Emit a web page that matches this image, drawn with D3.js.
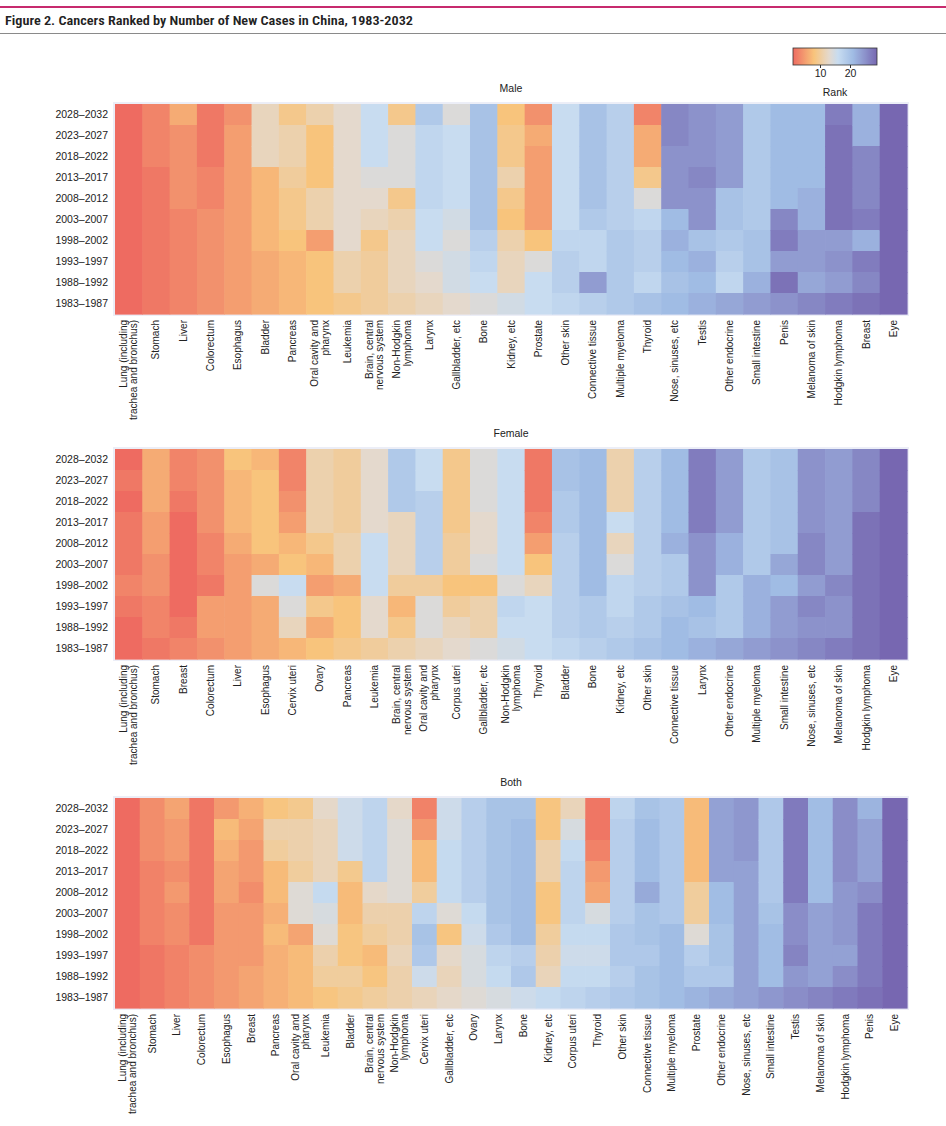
<!DOCTYPE html>
<html>
<head>
<meta charset="utf-8">
<script src="https://cdn.jsdelivr.net/npm/d3@7"></script>
<style>
  html, body { margin: 0; padding: 0; background: #fff; }
  svg { display: block; }
  text { font-family: "Liberation Sans", Arial, sans-serif; fill: #222; }
</style>
</head>
<body>
<svg id="chart" width="946" height="1126"></svg>
<script>
// ---------- DATA ----------
const periods = ["2028–2032","2023–2027","2018–2022","2013–2017","2008–2012",
                 "2003–2007","1998–2002","1993–1997","1988–1992","1983–1987"];

const legendTicks = [10, 20];

// Each rank array lists one cancer's rank per period, top (2028–2032) to bottom (1983–1987)
const maleCancers = ["Lung (including\ntrachea and bronchus)","Stomach","Liver","Colorectum","Esophagus",
  "Bladder","Pancreas","Oral cavity and\npharynx","Leukemia","Brain, central\nnervous system",
  "Non-Hodgkin\nlymphoma","Larynx","Gallbladder, etc","Bone","Kidney, etc","Prostate","Other skin",
  "Connective tissue","Multiple myeloma","Thyroid","Nose, sinuses, etc","Testis","Other endocrine",
  "Small intestine","Penis","Melanoma of skin","Hodgkin lymphoma","Breast","Eye"];
const maleRanks = [
  [1,1,1,1,1,1,1,1,1,1],
  [3,3,3,2,2,2,2,2,2,2],
  [6,4,4,4,4,3,3,3,3,3],
  [2,2,2,3,3,4,4,4,4,4],
  [4,5,5,5,5,5,5,5,5,5],
  [12,12,12,7,7,7,7,6,6,6],
  [9,11,11,10,9,9,8,7,7,7],
  [11,8,8,8,11,11,5,8,8,8],
  [13,13,13,13,13,13,13,11,11,9],
  [16,16,16,14,13,12,9,10,10,10],
  [9,14,14,14,9,11,12,12,12,11],
  [19,17,17,17,17,16,16,14,13,12],
  [14,16,16,16,16,15,14,15,15,13],
  [20,20,20,20,20,20,18,17,16,14],
  [8,9,9,11,9,8,11,12,12,15],
  [4,6,5,5,5,5,8,14,16,16],
  [16,16,16,16,16,16,17,18,18,17],
  [20,20,20,20,20,19,17,17,24,18],
  [18,18,18,18,18,18,19,19,19,19],
  [3,6,6,9,14,17,18,18,17,20],
  [26,26,25,25,25,21,22,21,20,21],
  [25,25,25,26,25,25,20,22,21,22],
  [24,24,24,24,20,20,19,18,17,23],
  [19,19,19,19,19,19,20,20,22,24],
  [21,21,21,21,21,26,27,24,28,25],
  [21,21,21,21,22,22,24,24,23,26],
  [27,28,28,28,28,28,24,25,24,27],
  [22,22,26,26,26,27,22,27,26,28],
  [29,29,29,29,29,29,29,29,29,29]
];

const femaleCancers = ["Lung (including\ntrachea and bronchus)","Stomach","Breast","Colorectum","Liver",
  "Esophagus","Cervix uteri","Ovary","Pancreas","Leukemia","Brain, central\nnervous system",
  "Oral cavity and\npharynx","Corpus uteri","Gallbladder, etc","Non-Hodgkin\nlymphoma","Thyroid",
  "Bladder","Bone","Kidney, etc","Other skin","Connective tissue","Larynx","Other endocrine",
  "Multiple myeloma","Small intestine","Nose, sinuses, etc","Melanoma of skin","Hodgkin lymphoma","Eye"];
const femaleRanks = [
  [1,2,1,2,2,2,3,2,1,1],
  [6,6,6,5,5,4,4,3,3,2],
  [3,3,2,1,1,1,1,1,2,3],
  [4,4,4,4,3,3,2,5,5,4],
  [8,7,7,7,6,5,5,5,5,5],
  [7,8,8,8,8,6,14,6,6,6],
  [3,3,4,5,7,8,16,14,12,7],
  [11,11,11,11,9,7,5,9,6,8],
  [10,10,10,10,11,11,6,8,8,9],
  [13,13,13,13,16,16,16,13,13,10],
  [19,19,19,12,12,12,10,7,9,11],
  [16,16,18,18,18,18,10,14,14,12],
  [9,9,9,9,10,10,8,10,12,13],
  [14,14,14,13,13,14,8,11,11,14],
  [16,16,16,16,16,16,14,17,16,15],
  [2,2,2,3,5,8,12,16,16,16],
  [20,20,19,19,18,18,18,18,18,17],
  [21,21,21,21,21,21,21,19,19,18],
  [11,11,11,16,12,14,17,17,18,19],
  [18,18,18,18,18,18,18,19,19,20],
  [21,21,21,21,22,19,19,20,21,21],
  [27,27,27,27,25,25,25,21,20,22],
  [24,24,24,24,22,22,19,19,19,23],
  [19,19,19,19,19,19,22,22,22,24],
  [20,20,20,20,20,23,21,24,24,25],
  [25,25,25,25,26,26,24,26,25,26],
  [24,24,24,24,24,24,26,25,25,27],
  [26,26,26,28,28,28,28,28,28,28],
  [29,29,29,29,29,29,29,29,29,29]
];

const bothCancers = ["Lung (including\ntrachea and bronchus)","Stomach","Liver","Colorectum","Esophagus",
  "Breast","Pancreas","Oral cavity and\npharynx","Leukemia","Bladder","Brain, central\nnervous system",
  "Non-Hodgkin\nlymphoma","Cervix uteri","Gallbladder, etc","Ovary","Larynx","Bone","Kidney, etc",
  "Corpus uteri","Thyroid","Other skin","Connective tissue","Multiple myeloma","Prostate",
  "Other endocrine","Nose, sinuses, etc","Small intestine","Testis","Melanoma of skin",
  "Hodgkin lymphoma","Penis","Eye"];
const bothRanks = [
  [1,1,1,1,1,1,1,1,1,1],
  [4,4,4,3,3,3,3,2,2,2],
  [6,5,5,4,5,4,4,3,3,3],
  [2,2,2,2,2,2,2,4,4,4],
  [5,8,7,6,6,5,5,5,5,5],
  [7,6,5,5,4,5,5,5,6,6],
  [9,12,11,8,8,7,8,7,7,7],
  [10,12,12,11,15,15,6,8,8,8],
  [14,13,13,13,18,16,15,12,11,9],
  [17,17,17,10,8,8,9,9,11,10],
  [19,19,19,19,14,12,11,8,9,11],
  [14,15,15,15,15,12,12,13,12,12],
  [3,5,8,8,11,19,22,21,17,13],
  [17,17,18,18,18,15,9,14,13,14],
  [20,20,20,20,20,18,17,16,16,15],
  [22,22,22,22,22,22,21,19,18,16],
  [22,23,23,23,23,23,23,20,21,17],
  [9,9,12,12,9,9,11,12,13,18],
  [13,16,18,19,19,19,18,17,18,19],
  [2,2,3,5,6,16,18,17,18,20],
  [19,20,20,20,20,20,21,21,20,21],
  [22,23,23,23,25,22,22,21,22,22],
  [21,21,21,21,21,21,23,23,23,23],
  [8,8,8,8,11,11,15,20,21,24],
  [26,26,26,26,23,23,22,22,21,25],
  [27,27,27,26,26,26,26,26,26,26],
  [21,21,21,21,21,22,23,23,23,27],
  [30,30,30,30,30,28,28,29,27,28],
  [23,23,23,23,23,26,26,26,26,29],
  [28,28,28,28,27,27,27,26,28,30],
  [24,26,26,26,28,30,30,30,30,31],
  [32,32,32,32,32,32,32,32,32,32]
];

// ---------- DRAW ----------
const svg = d3.select("#chart");
const colorStops = [1, 8, 13, 16, 21, 29];
const colorRange = ["#ee6b61", "#f8c47c", "#e4d9cd", "#c8dcf0", "#a0bce4", "#7767b1"];
function makeColor(n) {
  return d3.scaleLinear()
    .domain(colorStops.map(v => 1 + (v - 1) * (n - 1) / 28))
    .range(colorRange).interpolate(d3.interpolateRgb).clamp(true);
}

// header
svg.append("rect").attr("x", 0).attr("y", 6).attr("width", 946).attr("height", 2).attr("fill", "#c72a6e");
svg.append("text").attr("x", 5).attr("y", 25)
  .attr("font-size", 13).attr("font-weight", 600)
  .style("font-family", "'Liberation Sans Narrow', 'Roboto Condensed', 'Liberation Sans', sans-serif")
  .attr("textLength", 408).attr("lengthAdjust", "spacingAndGlyphs")
  .text("Figure 2. Cancers Ranked by Number of New Cases in China, 1983-2032");
svg.append("rect").attr("x", 0).attr("y", 33).attr("width", 946).attr("height", 1).attr("fill", "#8a8a8a");

// legend
const legX = d3.scaleLinear().domain([1, 29]).range([793, 877]);
const legColor = makeColor(29);
const grad = svg.append("defs").append("linearGradient").attr("id", "leggrad")
  .attr("x1", "0%").attr("x2", "100%").attr("y1", "0%").attr("y2", "0%");
d3.range(1, 29.01, 1).forEach(v => {
  grad.append("stop").attr("offset", ((v - 1) / 28 * 100) + "%").attr("stop-color", legColor(v));
});
svg.append("rect").attr("x", legX(1)).attr("y", 48).attr("width", legX(29) - legX(1)).attr("height", 17)
  .attr("fill", "url(#leggrad)").attr("stroke", "#333").attr("stroke-width", 0.8);
const legAxis = svg.append("g").attr("transform", "translate(0,65)")
  .call(d3.axisBottom(legX).tickValues(legendTicks).tickSize(3).tickPadding(2));
legAxis.select(".domain").remove();
legAxis.selectAll("line").attr("stroke", "#333");
legAxis.selectAll("text").attr("font-size", 10.5).style("font-family", "'Liberation Sans', Arial, sans-serif").attr("fill", "#222");
svg.append("text").attr("x", 835).attr("y", 96).attr("text-anchor", "middle").attr("font-size", 10.5).text("Rank");

function panel(title, cancers, ranks, top) {
  const n = cancers.length;
  const color = makeColor(n);
  const x = d3.scaleBand().domain(cancers).range([115, 907]);
  const y = d3.scaleBand().domain(periods).range([top, top + 210]);
  const g = svg.append("g");

  g.append("text").attr("x", 511).attr("y", top - 12).attr("text-anchor", "middle")
    .attr("font-size", 10.5).text(title);

  g.append("rect").attr("x", 113).attr("y", top - 2).attr("width", 796).attr("height", 214)
    .attr("fill", "#eceef7");

  const cells = [];
  cancers.forEach((c, i) => ranks[i].forEach((r, j) => cells.push({c, p: periods[j], r})));
  g.selectAll("rect.cell").data(cells).join("rect").attr("class", "cell")
    .attr("x", d => x(d.c)).attr("y", d => y(d.p))
    .attr("width", x.bandwidth() + 0.6).attr("height", y.bandwidth() + 0.6)
    .attr("fill", d => color(d.r));

  const ya = g.append("g").attr("transform", "translate(112,0)")
    .call(d3.axisLeft(y).tickSize(0).tickPadding(4));
  ya.select(".domain").remove();
  ya.selectAll("text").attr("font-size", 10.5).style("font-family", "'Liberation Sans', Arial, sans-serif").attr("fill", "#222");

  const lh = 10.5;
  const lab = g.selectAll("g.xl").data(cancers).join("g").attr("class", "xl")
    .attr("transform", d => `translate(${x(d) + x.bandwidth() / 2},${top + 216}) rotate(-90)`);
  lab.each(function(d) {
    const lines = d.split("\n");
    const t = d3.select(this).append("text").attr("text-anchor", "end").attr("font-size", 10);
    lines.forEach((ln, k) => {
      t.append("tspan").attr("x", 0)
        .attr("y", (k - (lines.length - 1) / 2) * lh)
        .attr("dy", "0.35em").text(ln);
    });
  });
}

panel("Male", maleCancers, maleRanks, 104);
panel("Female", femaleCancers, femaleRanks, 449);
panel("Both", bothCancers, bothRanks, 798);
</script>
</body>
</html>
